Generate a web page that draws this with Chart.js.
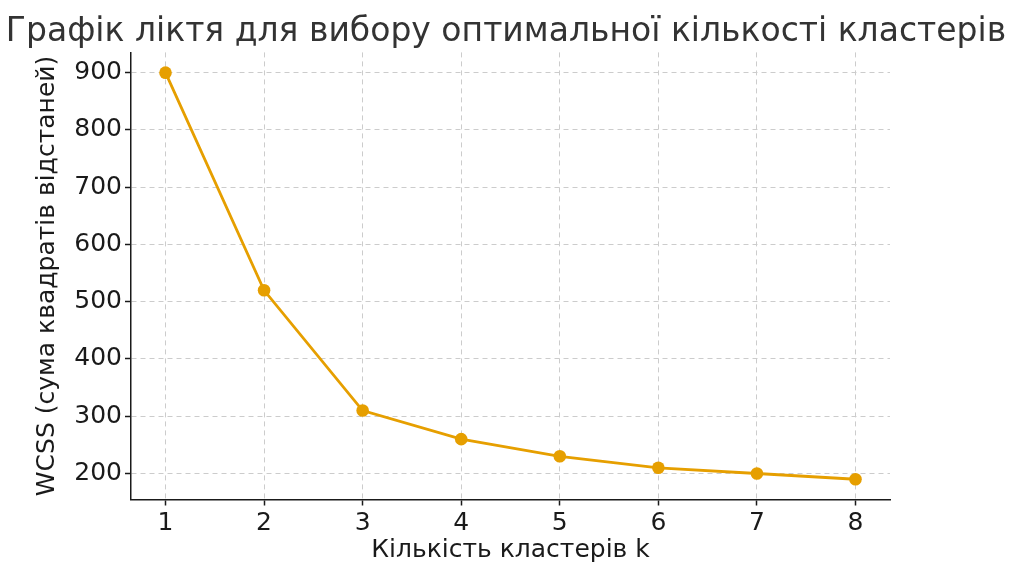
<!DOCTYPE html>
<html><head><meta charset="utf-8">
<script src="https://cdn.jsdelivr.net/npm/chart.js@4/dist/chart.umd.min.js"></script>
<style>html,body{margin:0;padding:0;background:#fff;} canvas{display:block;}</style>
</head><body>
<canvas id="c" width="1012" height="563"></canvas>
<script>
const clusterCounts = [1, 2, 3, 4, 5, 6, 7, 8];
const wcssValues = [900, 520, 310, 260, 230, 210, 200, 190];
const xTickValues = [1, 2, 3, 4, 5, 6, 7, 8];
const yTickValues = [200, 300, 400, 500, 600, 700, 800, 900];
const titleText = 'Графік ліктя для вибору оптимальної кількості кластерів';
const xAxisTitle = 'Кількість кластерів k';
const yAxisTitle = 'WCSS (сума квадратів відстаней)';

const FONT = 'DejaVu Sans';
const TXT = '#1a1a1a';
const GRID = '#cccccc';

const points = clusterCounts.map((k, i) => ({x: k, y: wcssValues[i]}));

new Chart(document.getElementById('c'), {
  type: 'line',
  data: {
    datasets: [{
      data: points,
      borderColor: '#E69F00',
      backgroundColor: '#E69F00',
      borderWidth: 2.8,
      pointRadius: 6.3,
      pointHoverRadius: 6.3,
      pointBorderWidth: 0,
      tension: 0
    }]
  },
  options: {
    responsive: false,
    animation: false,
    devicePixelRatio: 1,
    layout: {padding: {left: 0, right: 0, top: 0, bottom: 0}},
    plugins: {
      legend: {display: false},
      tooltip: {enabled: false},
      title: {
        display: true,
        text: titleText,
        color: '#333333',
        font: {family: FONT, size: 33, weight: 'normal', lineHeight: 1.2},
        padding: {top: 12.8, bottom: 0}
      }
    },
    scales: {
      x: {
        type: 'linear',
        min: 0.65,
        max: 8.35,
        afterBuildTicks: s => { s.ticks = xTickValues.map(v => ({value: v})); },
        afterFit: s => { s.height = 63.5; },
        ticks: {
          color: TXT,
          font: {family: FONT, size: 25},
          padding: 3,
          maxRotation: 0,
          callback: v => String(v)
        },
        grid: {color: GRID, lineWidth: 1, tickLength: 6, tickColor: TXT, tickWidth: 1.5, drawTicks: true},
        border: {display: true, color: TXT, width: 1.5, dash: [5, 4]},
        title: {
          display: true,
          text: xAxisTitle,
          color: TXT,
          font: {family: FONT, size: 25, lineHeight: 1},
          padding: {top: 0, bottom: 0}
        }
      },
      y: {
        type: 'linear',
        min: 154.6,
        max: 935.4,
        afterBuildTicks: s => { s.ticks = yTickValues.map(v => ({value: v})); },
        afterFit: s => { s.width = 131; },
        ticks: {
          color: TXT,
          font: {family: FONT, size: 25},
          padding: 3,
          callback: v => String(v)
        },
        grid: {color: GRID, lineWidth: 1, tickLength: 6, tickColor: TXT, tickWidth: 1.5, drawTicks: true},
        border: {display: true, color: TXT, width: 1.5, dash: [5, 4]},
        title: {
          display: true,
          text: yAxisTitle,
          color: TXT,
          font: {family: FONT, size: 25, lineHeight: 1},
          padding: {top: 35, bottom: 0}
        }
      },
      rightSpace: {
        type: 'linear',
        position: 'right',
        display: true,
        min: 154.6,
        max: 935.4,
        afterFit: s => { s.width = 122; },
        ticks: {display: false},
        grid: {display: false, drawOnChartArea: false, drawTicks: false},
        border: {display: false},
        title: {display: false}
      }
    }
  }
});
</script>
</body></html>
